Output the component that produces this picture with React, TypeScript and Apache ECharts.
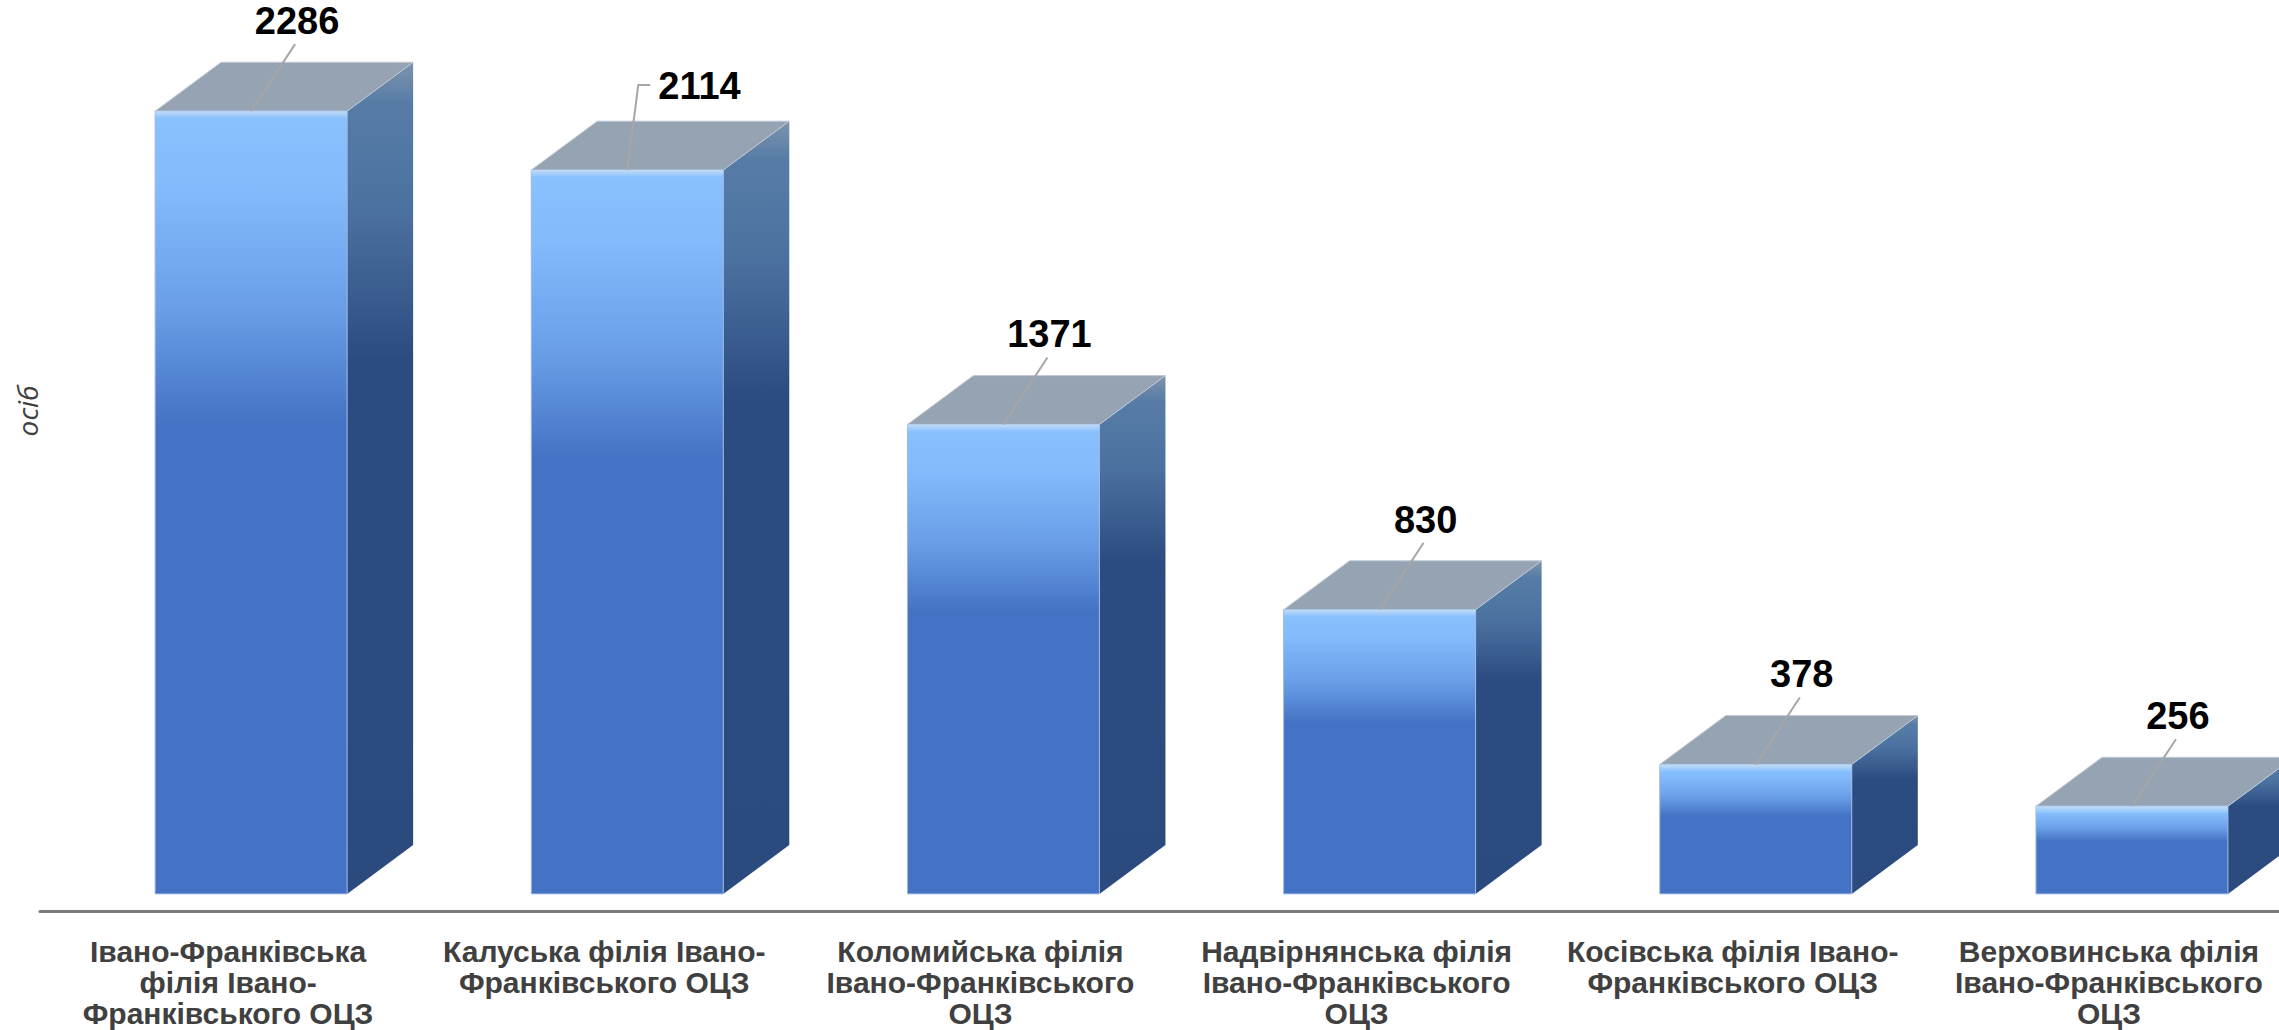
import React, { useEffect, useRef } from "react";
import * as echarts from "echarts";

const categories = [
  "Івано-Франківська\nфілія Івано-\nФранківського ОЦЗ",
  "Калуська філія Івано-\nФранківського ОЦЗ",
  "Коломийська філія\nІвано-Франківського\nОЦЗ",
  "Надвірнянська філія\nІвано-Франківського\nОЦЗ",
  "Косівська філія Івано-\nФранківського ОЦЗ",
  "Верховинська філія\nІвано-Франківського\nОЦЗ",
];
const values = [2286, 2114, 1371, 830, 378, 256];
const axisTitle = "осіб";

const grad = (stops: [number, string][]) =>
  new echarts.graphic.LinearGradient(
    0,
    0,
    0,
    1,
    stops.map(([offset, color]) => ({ offset, color }))
  );

const renderItem = (params: any, api: any) => {
  const idx = api.value(0);
  const val = api.value(1);
  const [cx, top] = api.coord([idx, val]);
  const bottom = api.coord([idx, 0])[1];
  const bw = api.size([1, 0])[0];
  const fl = cx - bw * 0.194;
  const fw = bw * 0.5104;
  const fr = fl + fw;
  const dx = bw * 0.1755;
  const dy = bw * 0.13;
  const h = bottom - top;
  const fc = fl + fw / 2;

  const children: any[] = [];
  // side face
  children.push({
    type: "polygon",
    shape: {
      points: [
        [fr, top],
        [fr + dx, top - dy],
        [fr + dx, bottom - dy],
        [fr, bottom],
      ],
    },
    style: {
      fill: grad([
        [0, "#7E93AE"],
        [0.05, "#567CA6"],
        [0.18, "#4B71A0"],
        [0.36, "#2C4B80"],
        [1, "#2B4A7E"],
      ]),
    },
  });
  // top face
  children.push({
    type: "polygon",
    shape: {
      points: [
        [fl, top],
        [fl + dx, top - dy],
        [fr + dx, top - dy],
        [fr, top],
      ],
    },
    style: { fill: "#95A3B3", stroke: "#BFC9D4", lineWidth: 1 },
  });
  // front face
  children.push({
    type: "rect",
    shape: { x: fl, y: top, width: fw, height: h },
    style: {
      fill: grad([
        [0, "#8AC2FF"],
        [0.1, "#82BAFB"],
        [0.25, "#6A9FE8"],
        [0.4, "#4472C4"],
        [1, "#4472C4"],
      ]),
      stroke: "#9DB9E4",
      lineWidth: 1,
    },
  });
  // top highlight strip
  children.push({
    type: "rect",
    shape: { x: fl, y: top, width: fw, height: Math.min(7, h) },
    style: {
      fill: grad([
        [0, "#C4DCF4"],
        [1, "#8AC2FF"],
      ]),
    },
  });

  // leader line and label
  const font = 'bold 38px "Liberation Sans", Arial, sans-serif';
  if (idx === 1) {
    children.push({
      type: "polyline",
      shape: {
        points: [
          [fc, top],
          [fc + 11, top - 85],
          [fc + 23, top - 85],
        ],
      },
      style: { stroke: "#A6A6A6", lineWidth: 2, fill: null },
    });
    children.push({
      type: "text",
      style: {
        text: String(val),
        x: fc + 31,
        y: top - 84,
        align: "left",
        verticalAlign: "middle",
        textAlign: "left",
        textVerticalAlign: "middle",
        fill: "#000000",
        font,
      },
    });
  } else {
    children.push({
      type: "line",
      shape: { x1: fc, y1: top, x2: fc + 44, y2: top - 67 },
      style: { stroke: "#A6A6A6", lineWidth: 2 },
    });
    children.push({
      type: "text",
      style: {
        text: String(val),
        x: fc + 46,
        y: top - 90,
        align: "center",
        verticalAlign: "middle",
        textAlign: "center",
        textVerticalAlign: "middle",
        fill: "#000000",
        font,
      },
    });
  }
  return { type: "group", children };
};

export default function App() {
  const ref = useRef<HTMLDivElement>(null);
  useEffect(() => {
    if (!ref.current) return;
    const chart = echarts.init(ref.current, undefined, { renderer: "svg" });
    chart.setOption({
      animation: false,
      backgroundColor: "#ffffff",
      grid: { left: 40, right: 23, top: 55, bottom: 119 },
      xAxis: {
        type: "category",
        data: categories,
        axisTick: { show: false },
        axisLine: { onZero: false, lineStyle: { color: "#7A7A7A", width: 3 } },
        axisLabel: {
          interval: 0,
          color: "#404040",
          fontFamily: '"Liberation Sans", Arial, sans-serif',
          fontWeight: "bold",
          fontSize: 30,
          lineHeight: 31,
          margin: 25,
        },
      },
      yAxis: { type: "value", min: -50, max: 2450, show: false },
      graphic: [
        {
          type: "text",
          x: 27,
          y: 411,
          rotation: Math.PI / 2,
          style: {
            text: axisTitle,
            align: "center",
            verticalAlign: "middle",
            textAlign: "center",
            textVerticalAlign: "middle",
            fill: "#404040",
            font: 'italic 28px "Open Sans", sans-serif',
          },
        },
      ],
      series: [
        {
          type: "custom",
          renderItem,
          clip: false,
          encode: { x: 0, y: 1 },
          data: values.map((v, i) => [i, v]),
        },
      ],
    });
    return () => chart.dispose();
  }, []);
  return (
    <div
      style={{
        position: "absolute",
        left: 0,
        top: 0,
        width: 2279,
        height: 1030,
        overflow: "hidden",
        background: "#fff",
      }}
    >
      <div ref={ref} style={{ width: 2320, height: 1030 }} />
    </div>
  );
}
